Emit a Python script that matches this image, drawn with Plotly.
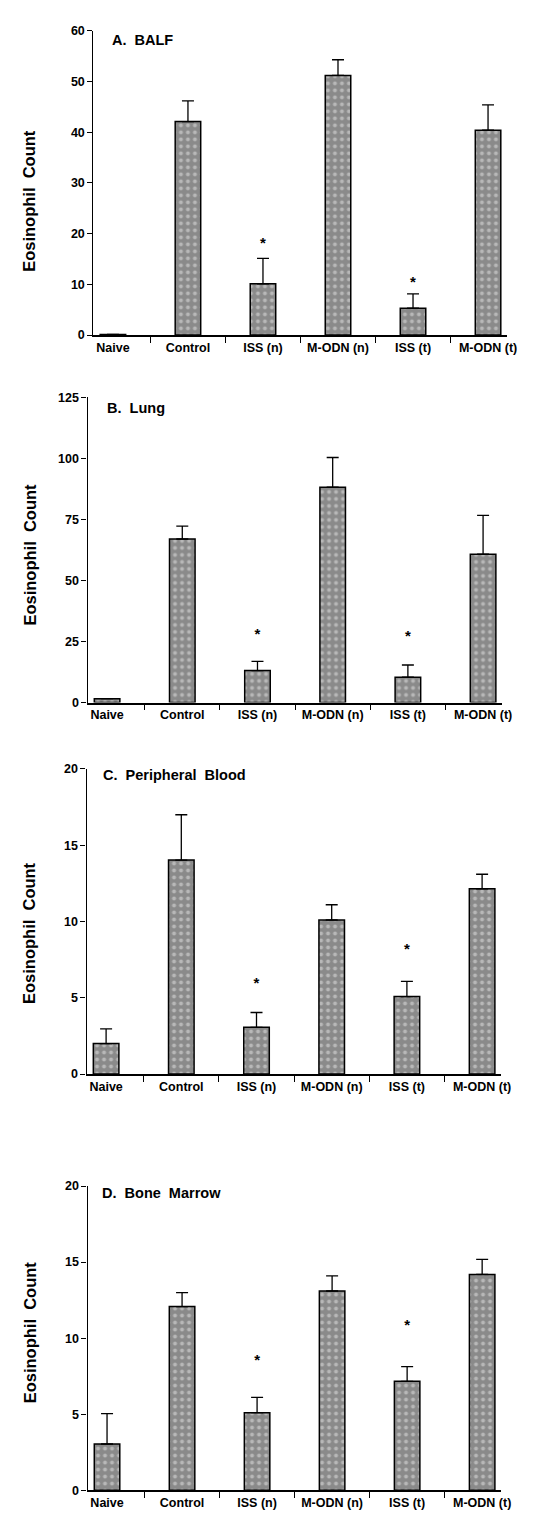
import plotly.graph_objects as go

categories = ["Naive", "Control", "ISS (n)", "M-ODN (n)", "ISS (t)", "M-ODN (t)"]

panel_titles = ["A.  BALF", "B.  Lung", "C.  Peripheral  Blood", "D.  Bone  Marrow"]

balf_mean = [0.1, 42.1, 10.1, 51.2, 5.3, 40.4]
balf_err = [0, 4.1, 5.0, 3.1, 2.8, 5.0]
balf_star = [None, None, 18.0, None, 10.2, None]

lung_mean = [1.6, 67.0, 13.1, 88.2, 10.4, 60.8]
lung_err = [0, 5.3, 3.8, 12.2, 5.0, 15.9]
lung_star = [None, None, 27.6, None, 26.7, None]

blood_mean = [2.0, 14.03, 3.07, 10.1, 5.08, 12.15]
blood_err = [0.96, 2.97, 0.97, 1.0, 1.0, 0.95]
blood_star = [None, None, 5.9, None, 8.1, None]

marrow_mean = [3.04, 12.08, 5.1, 13.1, 7.16, 14.19]
marrow_err = [2.0, 0.92, 1.0, 1.0, 0.97, 0.99]
marrow_star = [None, None, 8.5, None, 10.8, None]

y_ranges = [[0, 60], [0, 125], [0, 20], [0, 20]]
y_dticks = [10, 25, 5, 5]

means = [balf_mean, lung_mean, blood_mean, marrow_mean]
errs = [balf_err, lung_err, blood_err, marrow_err]
stars = [balf_star, lung_star, blood_star, marrow_star]

W, H = 552, 1515
# pixel layout of each panel: (left, right, top, bottom)
panels_px = [(87, 508, 16, 323), (81, 503, 386, 694), (80, 502, 761, 1069), (81, 502, 1182, 1489)]
title_px = [(104, 25), (99, 397), (95, 767), (94, 1189)]
ylabel_px = [188, 545, 927, 1330]

FONT = "Liberation Sans"
fig = go.Figure()
for i in range(4):
    sfx = "" if i == 0 else str(i + 1)
    xa, ya = "x" + sfx, "y" + sfx
    fig.add_trace(go.Bar(
        x=categories, y=means[i], xaxis=xa, yaxis=ya, width=0.34,
        marker=dict(color="#8a8a8a", line=dict(color="black", width=1.5),
                    pattern=dict(shape=".", fgcolor="#e6e6e6", bgcolor="#8a8a8a", size=7, solidity=0.25)),
        error_y=dict(type="data", symmetric=False, array=errs[i], arrayminus=[0] * 6,
                     color="black", thickness=1.3, width=6),
        showlegend=False,
    ))
    fig.add_trace(go.Scatter(
        x=categories, y=stars[i], xaxis=xa, yaxis=ya, mode="text", text=["*"] * 6,
        textfont=dict(family=FONT, size=15, color="black", weight="bold"), textposition="middle center",
        showlegend=False,
    ))
    l, r, t, b = panels_px[i]
    fig.layout["xaxis" + sfx] = dict(
        domain=[l / W, r / W], anchor=ya, type="category", range=[-0.26, 5.25],
        showline=True, linecolor="black", linewidth=1.5, ticks="outside", tickson="boundaries",
        ticklen=6, tickwidth=1.2, tickcolor="black", showgrid=False, zeroline=False,
        tickfont=dict(family=FONT, size=12.5, color="black", weight="bold"),
    )
    fig.layout["yaxis" + sfx] = dict(
        domain=[1 - b / H, 1 - t / H], anchor=xa, range=y_ranges[i], dtick=y_dticks[i],
        showline=True, linecolor="black", linewidth=1.2, ticks="outside", ticklen=5,
        tickwidth=1.2, tickcolor="black", showgrid=False, zeroline=False,
        tickfont=dict(family=FONT, size=12.5, color="black", weight="bold"),
    )
    tx, ty = title_px[i]
    fig.add_annotation(x=tx / W, y=1 - ty / H, xref="paper", yref="paper", text="<b>" + panel_titles[i] + "</b>",
                       showarrow=False, xanchor="left", yanchor="middle",
                       font=dict(family=FONT, size=14.5, color="black"))
    fig.add_annotation(x=22 / W, y=1 - ylabel_px[i] / H, xref="paper", yref="paper", text="<b>Eosinophil  Count</b>",
                       showarrow=False, textangle=-90, xanchor="center", yanchor="middle",
                       font=dict(family=FONT, size=16.5, color="black"))

fig.update_layout(width=W, height=H, margin=dict(l=0, r=0, t=0, b=0),
                  plot_bgcolor="white", paper_bgcolor="white", bargap=0.5)
fig.write_html("out.html")
